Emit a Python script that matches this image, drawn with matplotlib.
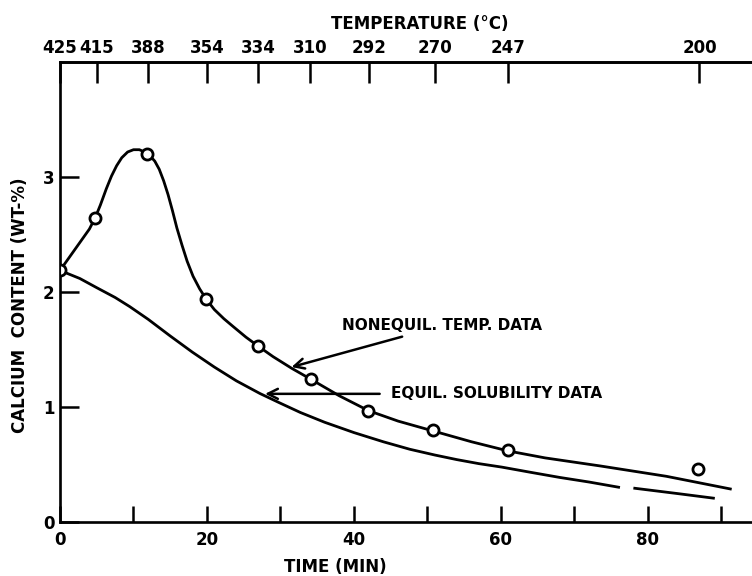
import matplotlib
matplotlib.use("Agg")
import matplotlib.pyplot as plt

# measured points (time in min, calcium wt-%)
pt_time = [0, 4.8, 11.9, 19.9, 27, 34.1, 41.9, 50.8, 61, 86.8]
pt_ca = [2.19, 2.65, 3.20, 1.94, 1.53, 1.245, 0.97, 0.80, 0.625, 0.46]

# temperature at each measurement time (top axis)
temp_time = [0, 5, 12, 20, 27, 34, 42, 51, 61, 87]
temp_lbl = ["425", "415", "388", "354", "334", "310", "292", "270", "247", "200"]

# hand drawn curve through the nonequilibrium data
neq_t = [0, 1, 2, 3, 4, 4.8, 5.5, 6.3, 7, 7.7, 8.4, 9.2, 10, 10.8, 11.5, 12.2,
         12.9, 13.5, 14.1, 14.7, 15.3, 15.9, 16.6, 17.3, 18.1, 19, 19.9, 21,
         22.3, 23.6, 25.3, 27, 29, 31.5, 34.1, 38, 42, 46, 51, 56, 61, 66,
         73.5, 82.5, 91.2]
neq_v = [2.19, 2.28, 2.37, 2.46, 2.55, 2.65, 2.76, 2.90, 3.01, 3.10, 3.17, 3.22,
         3.24, 3.24, 3.22, 3.19, 3.14, 3.07, 2.97, 2.85, 2.71, 2.56, 2.41, 2.27,
         2.14, 2.03, 1.94, 1.85, 1.77, 1.70, 1.61, 1.53, 1.44, 1.34, 1.245,
         1.10, 0.97, 0.88, 0.79, 0.70, 0.62, 0.56, 0.49, 0.40, 0.29]

# equilibrium solubility curve (two pieces, broken near 77 min)
eq_t1 = [0, 2.7, 5, 7.5, 9.5, 12, 15, 18, 21, 24, 27.2, 30, 32.7, 36, 40, 44,
         47.6, 51, 54, 57, 60.1, 64, 68, 72, 76]
eq_v1 = [2.19, 2.12, 2.04, 1.955, 1.875, 1.765, 1.62, 1.48, 1.35, 1.23, 1.12,
         1.035, 0.955, 0.87, 0.78, 0.70, 0.635, 0.585, 0.545, 0.51, 0.48, 0.435,
         0.39, 0.35, 0.305]
eq_t2 = [78.2, 84, 88.9]
eq_v2 = [0.296, 0.25, 0.21]

plt.rcParams['font.family'] = ['DejaVu Sans']
plt.rcParams['font.weight'] = 'bold'

W, H = 752, 576
fig = plt.figure(figsize=(W / 100, H / 100), dpi=100)
ax = fig.add_axes([60 / W, (H - 522.3) / H, 692 / W, 460 / H])

ax.plot(neq_t, neq_v, color='black', lw=2.0, zorder=2)
ax.plot(eq_t1, eq_v1, color='black', lw=2.0, zorder=2)
ax.plot(eq_t2, eq_v2, color='black', lw=2.0, zorder=2)
ax.plot(pt_time, pt_ca, 'o', ms=8, mfc='white', mec='black', mew=2.0, zorder=3)

ax.set_xlim(0, 94.15)
ax.set_ylim(0, 4.0)

for s in ['left', 'bottom', 'top']:
    ax.spines[s].set_linewidth(1.9)
ax.spines['right'].set_visible(False)

ax.set_xticks(range(0, 91, 10))
ax.set_xticklabels(['0', '', '20', '', '40', '', '60', '', '80', ''])
ax.tick_params(axis='x', direction='in', length=11.5, width=1.8, pad=6, labelsize=12)
ax.set_yticks([0, 1, 2, 3])
ax.set_yticklabels(['0', '1', '2', '3'])
ax.tick_params(axis='y', direction='in', length=14, width=1.8, pad=4, labelsize=12)

top = ax.twiny()
top.set_xlim(ax.get_xlim())
top.spines['right'].set_visible(False)
top.spines['top'].set_linewidth(1.9)
top.set_xticks(temp_time)
top.set_xticklabels(temp_lbl)
top.tick_params(axis='x', direction='in', length=15, width=1.8, pad=4, labelsize=12)

fig.text(420 / W, 1 - 24 / H, 'TEMPERATURE (°C)', ha='center', va='center', fontsize=12)
fig.text(335 / W, 1 - 567 / H, 'TIME (MIN)', ha='center', va='center', fontsize=12)
fig.text(20 / W, 1 - 305 / H, 'CALCIUM  CONTENT (WT-%)', ha='center', va='center',
         rotation=90, fontsize=12)

ax.annotate('NONEQUIL. TEMP. DATA', xy=(31.5, 1.35), xytext=(38.4, 1.71),
            fontsize=11, ha='left', va='center',
            arrowprops=dict(arrowstyle='->', color='black', lw=1.8,
                            shrinkA=2, shrinkB=0, mutation_scale=18))
ax.annotate('EQUIL. SOLUBILITY DATA', xy=(27.9, 1.117), xytext=(45.0, 1.117),
            fontsize=11, ha='left', va='center',
            arrowprops=dict(arrowstyle='->', color='black', lw=1.8,
                            shrinkA=6, shrinkB=0, mutation_scale=18))

fig.savefig('out.png', dpi=100)
